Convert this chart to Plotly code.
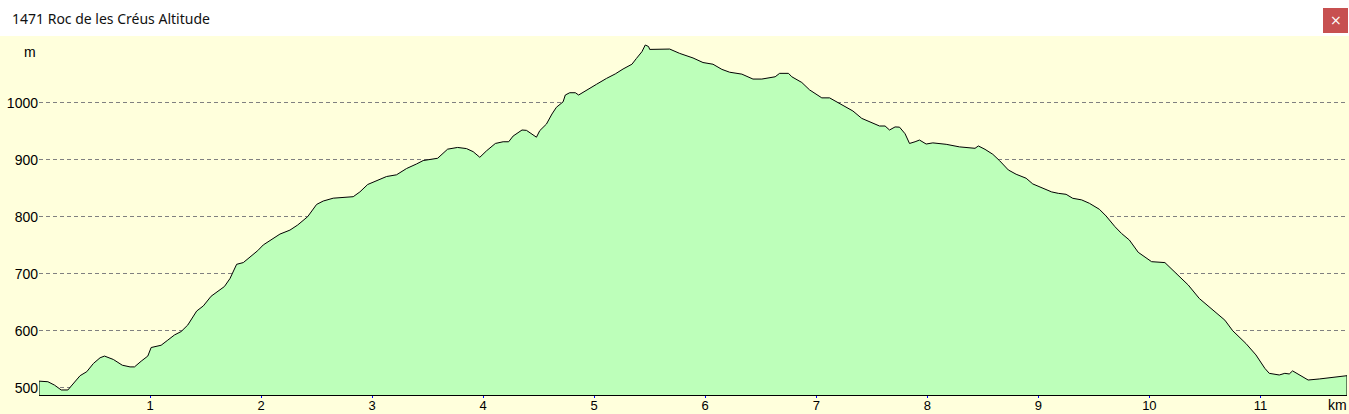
import plotly.graph_objects as go

# distance along route (km)
dist_km = [0.00, 0.08, 0.14, 0.20, 0.26, 0.32, 0.37, 0.43, 0.49, 0.55, 0.59, 0.67, 0.75, 0.82, 0.86,
           0.92, 0.98, 1.01, 1.10, 1.16, 1.22, 1.28, 1.34, 1.42, 1.48, 1.55, 1.61, 1.67, 1.72, 1.78,
           1.84, 1.91, 1.97, 2.02, 2.17, 2.26, 2.33, 2.42, 2.50, 2.56, 2.65, 2.83, 2.89, 2.96, 3.05,
           3.13, 3.22, 3.31, 3.40, 3.46, 3.59, 3.68, 3.77, 3.85, 3.91, 3.97, 4.03, 4.11, 4.18, 4.23,
           4.27, 4.35, 4.39, 4.44, 4.48, 4.51, 4.57, 4.62, 4.66, 4.72, 4.74, 4.78, 4.83, 4.86, 4.93,
           5.02, 5.11, 5.19, 5.26, 5.34, 5.38, 5.43, 5.46, 5.49, 5.50, 5.59, 5.68, 5.77, 5.89, 5.98,
           6.07, 6.15, 6.22, 6.33, 6.43, 6.51, 6.58, 6.63, 6.67, 6.75, 6.78, 6.87, 6.94, 7.05, 7.12,
           7.18, 7.27, 7.33, 7.41, 7.50, 7.57, 7.62, 7.66, 7.71, 7.75, 7.80, 7.84, 7.89, 7.93, 7.99,
           8.05, 8.17, 8.29, 8.43, 8.46, 8.52, 8.59, 8.65, 8.73, 8.80, 8.89, 8.95, 9.04, 9.12, 9.18,
           9.25, 9.31, 9.39, 9.46, 9.55, 9.61, 9.69, 9.75, 9.82, 9.90, 10.02, 10.14, 10.24, 10.35, 10.45,
           10.57, 10.68, 10.75, 10.87, 10.96, 11.04, 11.08, 11.17, 11.22, 11.26, 11.29, 11.35, 11.43, 11.53, 11.62,
           11.71, 11.78]

# altitude (m)
altitude_m = [512, 511, 505, 496.5, 496.5, 511, 521.6, 528.6, 543, 553, 556, 550, 540, 537, 537,
              547, 556, 571, 575, 584, 593, 599, 610.5, 635, 644, 661, 669, 678, 692, 717,
              720, 731, 741, 751, 770, 777, 786, 800.6, 822, 828, 833, 835.6, 844, 857, 865,
              871, 874, 885, 893, 899, 903, 919, 922, 920, 914.6, 904.7, 916, 929, 932, 932,
              942, 952.6, 952, 945.6, 940, 951.5, 963, 980.7, 992.5, 1002, 1014, 1018, 1018, 1014, 1021.6,
              1032.7, 1043, 1051, 1059.6, 1068, 1078, 1090, 1101.75, 1099, 1094, 1094, 1094.6, 1087, 1079, 1071,
              1068, 1059, 1054, 1050.6, 1042, 1042, 1045, 1046, 1052, 1052, 1046, 1036, 1023, 1009, 1009,
              1002, 991.7, 986, 973, 965.5, 959.6, 959.6, 952.6, 958, 957.6, 946, 929, 932, 935, 928,
              930, 927.5, 923, 920.5, 924.6, 918.7, 910, 899, 882.5, 875, 868, 858, 851, 844, 841.5,
              839.8, 832.8, 830, 824, 813.5, 801.8, 783, 771, 759.6, 738, 721.6, 720, 702, 680.7, 657,
              637, 619, 600.6, 578, 558, 534.5, 525.7, 522.8, 525.7, 524.6, 530, 522.8, 514, 515.8, 518,
              521, 521.6]

x_ticks = [1, 2, 3, 4, 5, 6, 7, 8, 9, 10, 11]
y_ticks = [500, 600, 700, 800, 900, 1000]
title_text = "1471 Roc de les Créus Altitude"

W, H = 1349, 414
ML, MR, MT, MB = 39, 2, 40, 19
PW, PH = W - ML - MR, H - MT - MB
Y_RANGE = [487.7, 1110.5]


def px(x):
    return (x - ML) / PW


def py(y):
    return (H - MB - y) / PH


YELLOW = "#FFFFDC"

fig = go.Figure()
fig.add_trace(go.Scatter(
    x=dist_km, y=altitude_m, mode="lines",
    line=dict(color="black", width=1),
    fill="tozeroy", fillcolor="#BDFFBA",
    hoverinfo="x+y", showlegend=False,
))

fig.update_layout(
    width=W, height=H,
    margin=dict(l=ML, r=MR, t=MT, b=MB, pad=0),
    paper_bgcolor=YELLOW, plot_bgcolor=YELLOW,
    font=dict(family="Liberation Sans, Arial, sans-serif", size=13, color="black"),
    showlegend=False,
    xaxis=dict(
        range=[0, 11.78], tickvals=x_ticks, ticktext=[str(t) for t in x_ticks],
        showgrid=False, zeroline=False, showline=True, linecolor="black", linewidth=1,
        ticks="outside", ticklen=2, tickcolor="#0000FF", tickwidth=1,
        ticklabelstandoff=-4,
        tickfont=dict(size=13), automargin=False, fixedrange=True,
    ),
    yaxis=dict(
        range=Y_RANGE, tickvals=y_ticks, ticktext=[str(t) for t in y_ticks],
        showgrid=True, gridcolor="#808080", gridwidth=1, griddash="4px,3px",
        zeroline=False, showline=False, ticks="", tickfont=dict(size=14),
        automargin=False, fixedrange=True,
    ),
    shapes=[
        # title bar
        dict(type="rect", xref="paper", yref="paper", x0=px(0), x1=px(W), y0=py(36), y1=py(0),
             fillcolor="white", line=dict(width=0), layer="below"),
        # close button
        dict(type="rect", xref="paper", yref="paper", x0=px(1323), x1=px(1348), y0=py(33), y1=py(8),
             fillcolor="#C75050", line=dict(width=0), layer="above"),
        # closing edges of the profile
        dict(type="line", xref="x", yref="y", x0=dist_km[0], x1=dist_km[0],
             y0=Y_RANGE[0], y1=altitude_m[0], line=dict(color="black", width=1)),
        dict(type="line", xref="x", yref="y", x0=dist_km[-1], x1=dist_km[-1],
             y0=Y_RANGE[0], y1=altitude_m[-1], line=dict(color="black", width=1)),
    ],
    annotations=[
        dict(text=title_text, xref="paper", yref="paper", x=px(10), y=py(18),
             xanchor="left", yanchor="middle", showarrow=False,
             font=dict(family="Noto Sans, Open Sans, sans-serif", size=14, color="#111111")),
        dict(text="×", xref="paper", yref="paper", x=px(1335.5), y=py(20),
             xanchor="center", yanchor="middle", showarrow=False,
             font=dict(family="DejaVu Sans", size=14, color="white")),
        dict(text="m", xref="paper", yref="paper", x=px(30), y=py(52),
             xanchor="center", yanchor="middle", showarrow=False, font=dict(size=14)),
        dict(text="km", xref="paper", yref="paper", x=px(1337), y=py(405),
             xanchor="center", yanchor="middle", showarrow=False, font=dict(size=14)),
    ],
)

fig.write_html(
    "out.html",
    config={"displayModeBar": False},
    post_script="document.body.style.margin='0px';document.body.style.overflow='hidden';",
)
